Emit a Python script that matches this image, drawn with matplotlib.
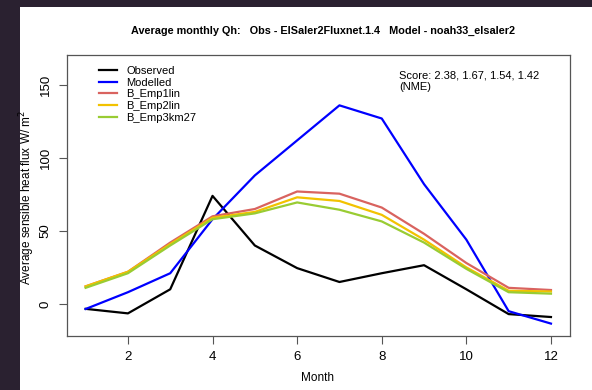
import matplotlib.pyplot as plt
from matplotlib.patches import Rectangle

plt.rcParams["font.family"] = ["Liberation Sans", "DejaVu Sans"]

months = [1, 2, 3, 4, 5, 6, 7, 8, 9, 10, 11, 12]
observed = [-3.4, -6.5, 10, 74, 40, 24.5, 15, 21, 26.5, 10, -7, -9]
modelled = [-3.5, 8, 21, 58, 88, 112, 136, 127, 82, 44, -5, -13.5]
emp1lin = [12, 22, 42, 60, 65, 77, 75.5, 66, 48, 28, 11, 9.5]
emp2lin = [12, 22, 41, 59, 63, 73, 70.5, 61, 44, 25, 9, 8.5]
emp3km27 = [11, 21, 40, 58, 62, 69.5, 64.5, 56.5, 42, 24, 8, 7]
series_names = ["Observed", "Modelled", "B_Emp1lin", "B_Emp2lin", "B_Emp3km27"]
scores = [2.38, 1.67, 1.54, 1.42]

colors = ["black", "#0000ff", "#d9635f", "#f2c200", "#99cc33"]

fig = plt.figure(figsize=(5.92, 3.90), dpi=100)
fig.patch.set_facecolor("#2a2130")
# white page area of the screenshot
fig.patches.append(Rectangle((20 / 592, 0), 1 - 20 / 592, 1 - 7 / 390,
                             transform=fig.transFigure, facecolor="white",
                             edgecolor="none", zorder=-10))

ax = fig.add_axes([67 / 592, 1 - 336 / 390, (570 - 67) / 592, (336 - 55) / 390])
ax.set_zorder(5)
for name, vals, c in zip(series_names,
                         [observed, modelled, emp1lin, emp2lin, emp3km27], colors):
    ax.plot(months, vals, color=c, lw=1.6, label=name)

ax.set_xlim(0.56, 12.45)
ax.set_ylim(-22, 170.5)
ax.set_xticks([2, 4, 6, 8, 10, 12])
ax.set_yticks([0, 50, 100, 150])
ax.tick_params(direction="out", length=6, labelsize=9.5, color="#555555", pad=5)
for lab in ax.get_yticklabels():
    lab.set_rotation(90)
    lab.set_va("center")
for s in ax.spines.values():
    s.set_color("#555555")
    s.set_linewidth(0.9)

# axis titles placed like the R device output
fig.text(318 / 592, 1 - 378 / 390, "Month", fontsize=8.5, ha="center", va="center")
fig.text(27 / 592, 1 - 197 / 390, "Average sensible heat flux W/ m$^2$",
         fontsize=8.5, rotation=90, ha="center", va="center")

ax.legend(loc="upper left", frameon=False, fontsize=8, handlelength=1.7,
          handletextpad=0.8, labelspacing=0.15, borderaxespad=0.4,
          bbox_to_anchor=(0.045, 0.993))

ax.text(0.66, 0.945, "Score: " + ", ".join(str(s) for s in scores) + "\n(NME)",
        transform=ax.transAxes, fontsize=8, va="top", ha="left",
        linespacing=1.15)

fig.text(323 / 592, 1 - 31 / 390,
         "Average monthly Qh:   Obs - ElSaler2Fluxnet.1.4   Model - noah33_elsaler2",
         ha="center", va="center", fontsize=7.8, fontweight="bold")

fig.savefig("out.png", dpi=100, facecolor=fig.get_facecolor())
